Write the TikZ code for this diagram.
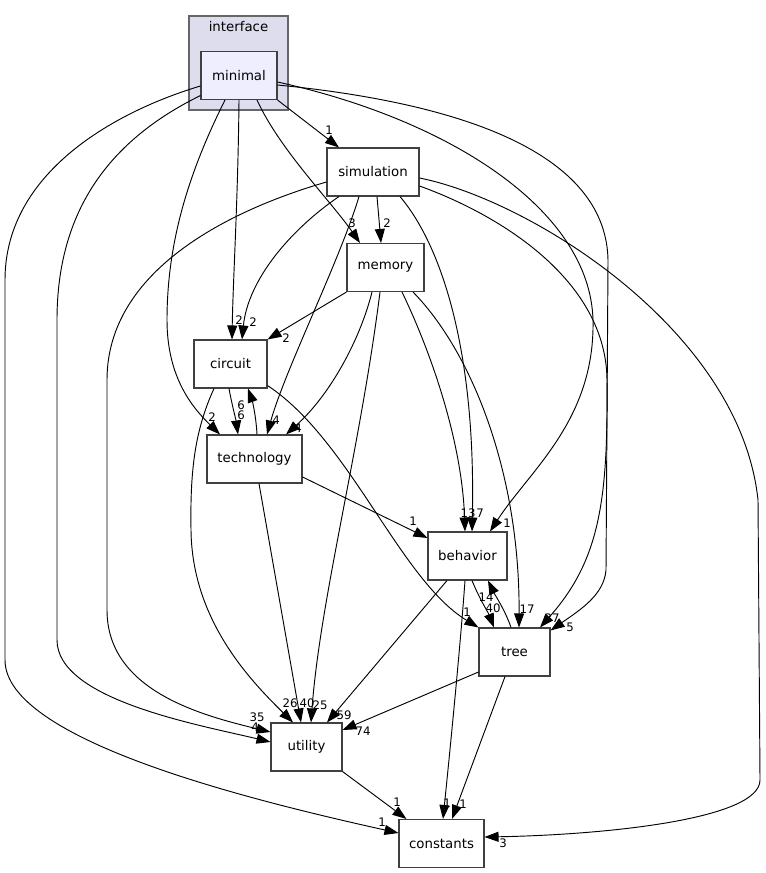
\documentclass[tikz,border=0pt]{standalone}
\usepackage{fontspec}
\setmainfont{DejaVu Sans}
\usetikzlibrary{arrows.meta,calc}
\definecolor{clfill}{HTML}{DDDDEE}
\definecolor{mnfill}{HTML}{EEEEFF}
\begin{document}
\begin{tikzpicture}[x=0.75pt,y=-0.75pt,
  box/.style={draw=black!75,line width=0.8pt,minimum height=36pt,inner sep=0pt,font=\fontsize{10}{12}\selectfont,fill=white},
  e/.style={draw=black,line width=0.7pt,-{Triangle[length=10.5pt,width=7.5pt]}},
  lbl/.style={inner sep=0pt,font=\fontsize{8.8}{10}\selectfont}]
\useasboundingbox (0,0) rectangle (765,873);
% cluster
\draw[fill=clfill,draw=black!60,line width=0.8pt] (189,16) rectangle (288,110);
\node[inner sep=0pt,font=\fontsize{10}{12}\selectfont] (iface) at (238.5,27) {interface};
% nodes
\node[box,fill=mnfill,minimum width=57pt] (minimal) at (239,75.5) {minimal};
\node[box,minimum width=69pt] (simulation) at (373,172) {simulation};
\node[box,minimum width=57.75pt] (memory) at (385.5,267.5) {memory};
\node[box,minimum width=54.75pt] (circuit) at (230.5,364) {circuit};
\node[box,minimum width=71.25pt] (technology) at (254.5,459) {technology};
\node[box,minimum width=59.25pt] (behavior) at (467.5,556) {behavior};
\node[box,minimum width=53.25pt] (tree) at (514.5,652) {tree};
\node[box,minimum width=53.25pt] (utility) at (306.5,747) {utility};
\node[box,minimum width=63.75pt] (constants) at (441.5,843.5) {constants};
% edges from minimal
\draw[e] (minimal.south east) -- ($(simulation.north)+(-34,0)$);
\draw[e] ($(minimal.south)+(18,0)$) .. controls (280,150) and (330,200) .. ($(memory.north)+(-25.5,0)$);
\draw[e] (minimal.south) .. controls (238,200) and (233,280) .. ($(circuit.north)+(1.5,0)$);
\draw[e] ($(minimal.south)+(-14,0)$) .. controls (190,170) and (167,240) .. (167,320) .. controls (167,380) and (195,410) .. ($(technology.north)+(-34.5,0)$);
\draw[e] ($(minimal.east)+(0,6.5)$) .. controls (450,120) and (590,210) .. (593,320) .. controls (595,420) and (530,470) .. ($(behavior.north)+(22.5,0)$);
\draw[e] ($(minimal.east)+(0,9.5)$) .. controls (480,105) and (606,160) .. (608,260) -- (606,570) .. controls (604,595) and (580,610) .. ($(tree.north east)+(0,3)$);
\draw[e] ($(minimal.south west)+(0,-4.5)$) .. controls (110,140) and (57,210) .. (57,320) -- (57,640) .. controls (57,700) and (200,725) .. ($(utility.west)+(0,-5)$);
\draw[e] ($(minimal.west)+(0,10.5)$) .. controls (120,110) and (5,170) .. (5,280) -- (5,660) .. controls (5,740) and (250,800) .. ($(constants.west)+(0,-10.5)$);
% edges from simulation
\draw[e] ($(simulation.south)+(4,0)$) -- ($(memory.north)+(-4.5,0)$);
\draw[e] ($(simulation.south)+(-34,0)$) .. controls (290,230) and (248,280) .. ($(circuit.north)+(11.5,0)$);
\draw[e] ($(simulation.south)+(-14,0)$) .. controls (340,260) and (285,370) .. ($(technology.north)+(12.5,0)$);
\draw[e] ($(simulation.south)+(27,0)$) .. controls (445,250) and (476,360) .. ($(behavior.north)+(4.5,0)$);
\draw[e] ($(simulation.east)+(0,14)$) .. controls (500,215) and (606,280) .. (607,380) .. controls (608,500) and (600,560) .. ($(tree.north)+(25.5,0)$);
\draw[e] ($(simulation.east)+(0,6)$) .. controls (530,200) and (740,330) .. (758,500) -- (760,780) .. controls (760,820) and (600,835) .. ($(constants.east)+(0,-6.5)$);
\draw[e] ($(simulation.west)+(0,10)$) .. controls (230,210) and (107,270) .. (107,380) -- (107,610) .. controls (107,690) and (200,715) .. ($(utility.west)+(0,-15)$);
% edges from memory
\draw[e] (memory.south west) -- (circuit.north east);
\draw[e] ($(memory.south)+(-13.5,0)$) .. controls (360,340) and (330,395) .. ($(technology.north)+(31.5,0)$);
\draw[e] ($(memory.south)+(-5.5,0)$) .. controls (360,450) and (320,600) .. ($(utility.north)+(4.5,0)$);
\draw[e] ($(memory.south)+(16.5,0)$) .. controls (430,350) and (462,440) .. ($(behavior.north)+(-2.5,0)$);
\draw[e] ($(memory.south)+(27.5,0)$) .. controls (470,350) and (520,470) .. ($(tree.north)+(4.5,0)$);
% circuit / technology
\draw[e] ($(circuit.south)+(-1.5,0)$) .. controls (232,405) and (236,420) .. ($(technology.north)+(-16.5,0)$);
\draw[e] ($(technology.north)+(2.5,0)$) .. controls (256,415) and (252,400) .. ($(circuit.south)+(17.5,0)$);
\draw[e] ($(circuit.south east)+(0,-3)$) .. controls (350,440) and (400,580) .. (tree.north west);
\draw[e] ($(circuit.south)+(-16.5,0)$) .. controls (195,430) and (190,470) .. (191,530) .. controls (192,620) and (250,680) .. ($(utility.north)+(-13.5,0)$);
\draw[e] ($(technology.east)+(0,18)$) -- ($(behavior.west)+(0,-18)$);
\draw[e] ($(technology.south)+(4.5,0)$) -- ($(utility.north)+(-5.5,0)$);
% behavior / tree
\draw[e] ($(behavior.south)+(4.5,0)$) .. controls (480,600) and (488,612) .. ($(tree.north)+(-20.5,0)$);
\draw[e] ($(tree.north)+(-3.5,0)$) .. controls (505,610) and (495,595) .. ($(behavior.south)+(20.5,0)$);
\draw[e] ($(behavior.south)+(-20.5,0)$) -- ($(utility.north)+(20.5,0)$);
\draw[e] ($(behavior.south)+(-2.5,0)$) .. controls (460,650) and (450,750) .. ($(constants.north)+(1.5,0)$);
\draw[e] ($(tree.west)+(0,20)$) -- ($(utility.east)+(0,-17)$);
\draw[e] ($(tree.south)+(-9.5,0)$) -- ($(constants.north)+(10.5,0)$);
\draw[e] (utility.south east) -- ($(constants.north west)+(8,0)$);
% labels
\node[lbl] (l1) at (329,130) {1};
\node[lbl] (l2) at (352,223) {3};
\node[lbl] (l3) at (239,320) {2};
\node[lbl] (l4) at (212,417) {2};
\node[lbl] (l5) at (507,523) {1};
\node[lbl] (l6) at (570,627) {5};
\node[lbl] (l7) at (255,727) {4};
\node[lbl] (l8) at (382,822) {1};
\node[lbl] (l9) at (387,223) {2};
\node[lbl] (l10) at (253,322) {2};
\node[lbl] (l11) at (276,420) {4};
\node[lbl] (l12) at (480,513) {7};
\node[lbl] (l13) at (552,618) {27};
\node[lbl] (l14) at (503,843) {3};
\node[lbl] (l15) at (257,717) {35};
\node[lbl] (l16) at (286,338) {2};
\node[lbl] (l17) at (298,428) {4};
\node[lbl] (l18) at (320,705) {25};
\node[lbl] (l19) at (468,513) {13};
\node[lbl] (l20) at (527,609) {17};
\node[lbl] (l21) at (241,415) {6};
\node[lbl] (l22) at (241,405) {6};
\node[lbl] (l23) at (467,612) {1};
\node[lbl] (l24) at (290,703) {26};
\node[lbl] (l25) at (413,521) {1};
\node[lbl] (l26) at (307,703) {40};
\node[lbl] (l27) at (493,608) {40};
\node[lbl] (l28) at (486,597) {14};
\node[lbl] (l29) at (344,715) {59};
\node[lbl] (l30) at (447,803) {1};
\node[lbl] (l31) at (363,731) {74};
\node[lbl] (l32) at (463,804) {1};
\node[lbl] (l33) at (397,802) {1};
\end{tikzpicture}
\end{document}
